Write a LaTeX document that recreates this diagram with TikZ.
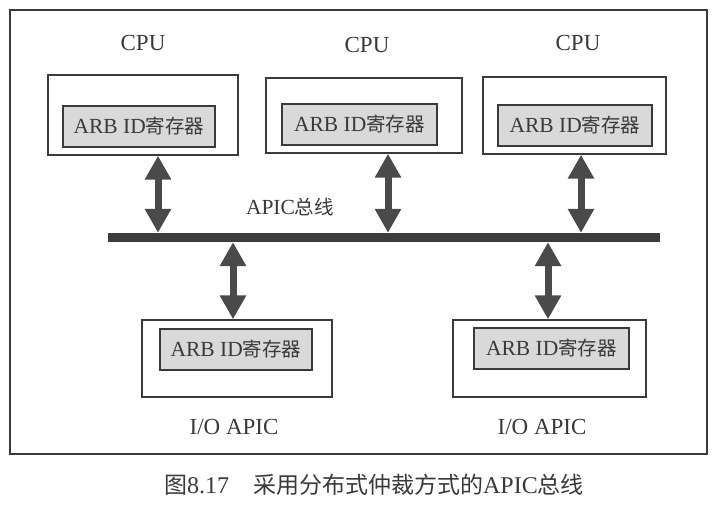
\documentclass[tikz,border=0pt]{standalone}
\usepackage{fontspec}
\setmainfont{Liberation Serif}
\newfontfamily\cjk{Noto Sans CJK SC}
\usetikzlibrary{arrows.meta}
\definecolor{ink}{HTML}{3A3A3A}
\definecolor{busc}{HTML}{3C3C3C}
\definecolor{arrc}{HTML}{4A4A4A}
\definecolor{regfill}{HTML}{D9D9D9}
\tikzset{
  txt/.style={font=\fontsize{23}{26}\selectfont, text=ink, inner sep=0pt},
  outerbox/.style={draw=ink, line width=1.4pt, fill=white, inner sep=0pt},
  regbox/.style={draw=ink, line width=1.1pt, fill=regfill, inner sep=0pt, minimum height=41pt, font=\fontsize{21.5}{24}\selectfont, text=ink},
  fatarrow/.style={draw=arrc, line width=7pt, {Triangle[width=25pt,length=24pt]}-{Triangle[width=25pt,length=24pt]}},
}
\newcommand{\regtext}{ARB ID{\cjk\fontsize{19.5}{24}\selectfont 寄存器}}
\begin{document}
\begin{tikzpicture}[x=1pt,y=-1pt]
\useasboundingbox (0,0) rectangle (719,504);
\fill[white] (0,0) rectangle (719,504);
% outer frame
\draw[ink, line width=1.8pt] (10,10) rectangle (707,454);
% CPU boxes
\node[outerbox, minimum width=190pt, minimum height=80pt] (cpu1) at (143,115) {};
\node[outerbox, minimum width=196pt, minimum height=75pt] (cpu2) at (364,115.5) {};
\node[outerbox, minimum width=183pt, minimum height=77pt] (cpu3) at (574.5,115.5) {};
\node[regbox, minimum width=152pt] (reg1) at (139,126.5) {\regtext};
\node[regbox, minimum width=155pt] (reg2) at (359.5,124.5) {\regtext};
\node[regbox, minimum width=154pt] (reg3) at (575,125.5) {\regtext};
\node[txt] (cpul1) at (143,43) {CPU};
\node[txt] (cpul2) at (367,45) {CPU};
\node[txt] (cpul3) at (578,43) {CPU};
% I/O APIC boxes
\node[outerbox, minimum width=190pt, minimum height=77pt] (io1) at (237,358.5) {};
\node[outerbox, minimum width=193pt, minimum height=77pt] (io2) at (549.5,358.5) {};
\node[regbox, minimum width=152pt] (reg4) at (236,349.5) {\regtext};
\node[regbox, minimum width=155pt] (reg5) at (551.5,348.5) {\regtext};
\node[txt] (iol1) at (234,427) {I/O APIC};
\node[txt] (iol2) at (542,427) {I/O APIC};
% bus
\node[fill=busc, inner sep=0pt, minimum width=552pt, minimum height=9pt] (bus) at (384,237.5) {};
\node[txt, font=\fontsize{21.5}{24}\selectfont] (busl) at (290,207) {APIC{\cjk\fontsize{19.5}{24}\selectfont 总线}};
% connectors
\coordinate (a1) at (158,0); \coordinate (a2) at (388,0); \coordinate (a3) at (581,0);
\coordinate (b1) at (233,0); \coordinate (b2) at (548,0);
\draw[fatarrow] (a1 |- cpu1.south) -- (a1 |- bus.north);
\draw[fatarrow] (a2 |- cpu2.south) -- (a2 |- bus.north);
\draw[fatarrow] (a3 |- cpu3.south) -- (a3 |- bus.north);
\draw[fatarrow] (b1 |- bus.south) -- (b1 |- io1.north);
\draw[fatarrow] (b2 |- bus.south) -- (b2 |- io2.north);
% caption
\node[font=\fontsize{24}{28}\selectfont, text=ink, inner sep=0pt] (cap) at (374,485) {{\cjk\fontsize{23}{28}\selectfont 图}8.17\hspace{1em}{\cjk\fontsize{23}{28}\selectfont 采用分布式仲裁方式的}APIC{\cjk\fontsize{23}{28}\selectfont 总线}};
\end{tikzpicture}
\end{document}
